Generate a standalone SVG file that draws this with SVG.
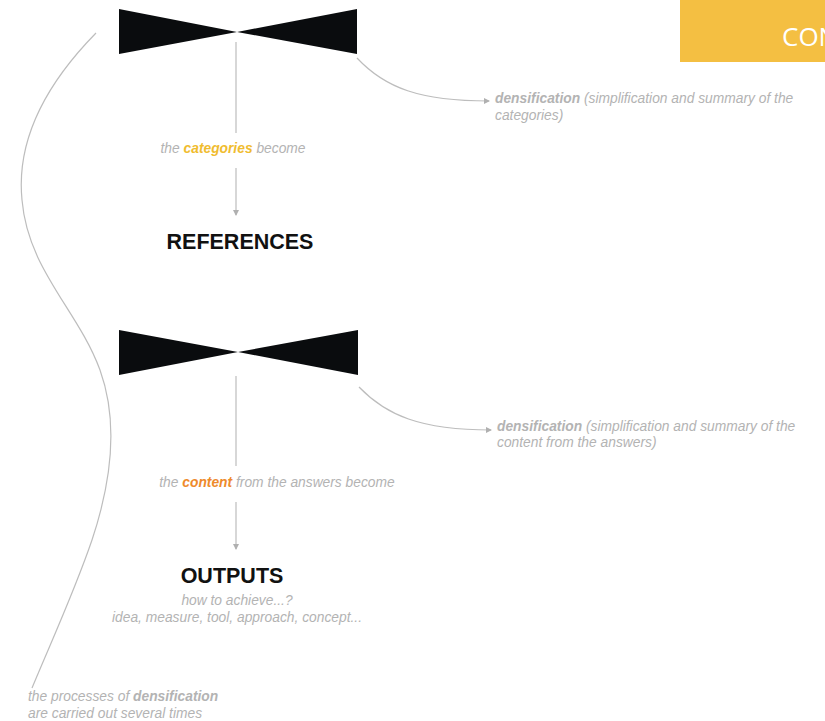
<svg xmlns="http://www.w3.org/2000/svg" width="825" height="721" viewBox="0 0 825 721">
  <defs>
    <style>
      .note { font-family: "Liberation Sans", Arial, sans-serif; font-size: 13.8px; font-style: italic; fill: #b3b3b3; }
      .note .b { font-weight: bold; }
      .title { font-family: "Liberation Sans", Arial, sans-serif; font-size: 21.5px; font-weight: bold; fill: #111111; }
      .bow { fill: #0a0c0e; }
      .wire { fill: none; stroke: #bdbdbd; stroke-width: 1.2; }
    </style>
    <marker id="tip" viewBox="0 0 6 6" refX="5" refY="3" markerWidth="6" markerHeight="6" markerUnits="userSpaceOnUse" orient="auto">
      <path d="M0,0 L6,3 L0,6 Z" fill="#b0b0b0"/>
    </marker>
  </defs>

  <rect width="825" height="721" fill="#ffffff"/>

  <!-- heading tab, top right -->
  <g id="heading">
    <rect x="680" y="0" width="145" height="62" fill="#f4bf42"/>
    <text x="782" y="46" font-family="'Open Sans', 'Liberation Sans', sans-serif" font-size="26" fill="#ffffff">CON</text>
  </g>

  <!-- funnels -->
  <g id="funnel-1">
    <polygon class="bow" points="119,9 237,32 119,54"/>
    <polygon class="bow" points="357,9 237,32 357,54"/>
  </g>
  <g id="funnel-2">
    <polygon class="bow" points="119,330 238,352 119,375"/>
    <polygon class="bow" points="358,330 238,352 358,375"/>
  </g>

  <!-- connectors -->
  <g id="connectors">
    <line class="wire" x1="236" y1="42" x2="236" y2="133"/>
    <line class="wire" x1="236" y1="168" x2="236" y2="215" marker-end="url(#tip)"/>
    <line class="wire" x1="236" y1="376" x2="236" y2="466"/>
    <line class="wire" x1="236" y1="502" x2="236" y2="549" marker-end="url(#tip)"/>
    <path class="wire" d="M357,58 C385,88 420,101 489,101" marker-end="url(#tip)"/>
    <path class="wire" d="M359,387 C386,415 420,430 491,430" marker-end="url(#tip)"/>
    <path class="wire" d="M96,33 C45,85 16,140 22,200 C28,270 78,310 100,370 C118,420 112,480 92,540 C75,590 52,640 32,688"/>
  </g>

  <!-- labels -->
  <g id="densify-1">
    <text class="note" x="495" y="103"><tspan class="b">densification</tspan> (simplification and summary of the</text>
    <text class="note" x="495" y="120">categories)</text>
  </g>
  <g id="densify-2">
    <text class="note" x="497" y="431"><tspan class="b">densification</tspan> (simplification and summary of the</text>
    <text class="note" x="497" y="447">content from the answers)</text>
  </g>

  <g id="step-categories">
    <text class="note" x="233" y="153" text-anchor="middle">the <tspan class="b" fill="#f0bc2f">categories</tspan> become</text>
  </g>
  <g id="references">
    <text class="title" x="240" y="249" text-anchor="middle">REFERENCES</text>
  </g>

  <g id="step-content">
    <text class="note" x="277" y="487" text-anchor="middle">the <tspan class="b" fill="#ee8a2b">content</tspan> from the answers become</text>
  </g>
  <g id="outputs">
    <text class="title" x="232" y="583" text-anchor="middle">OUTPUTS</text>
    <text class="note" x="237" y="605" text-anchor="middle">how to achieve...?</text>
    <text class="note" x="237" y="622" text-anchor="middle">idea, measure, tool, approach, concept...</text>
  </g>

  <g id="repeat-note">
    <text class="note" x="28" y="701">the processes of <tspan class="b">densification</tspan></text>
    <text class="note" x="28" y="718">are carried out several times</text>
  </g>
</svg>
